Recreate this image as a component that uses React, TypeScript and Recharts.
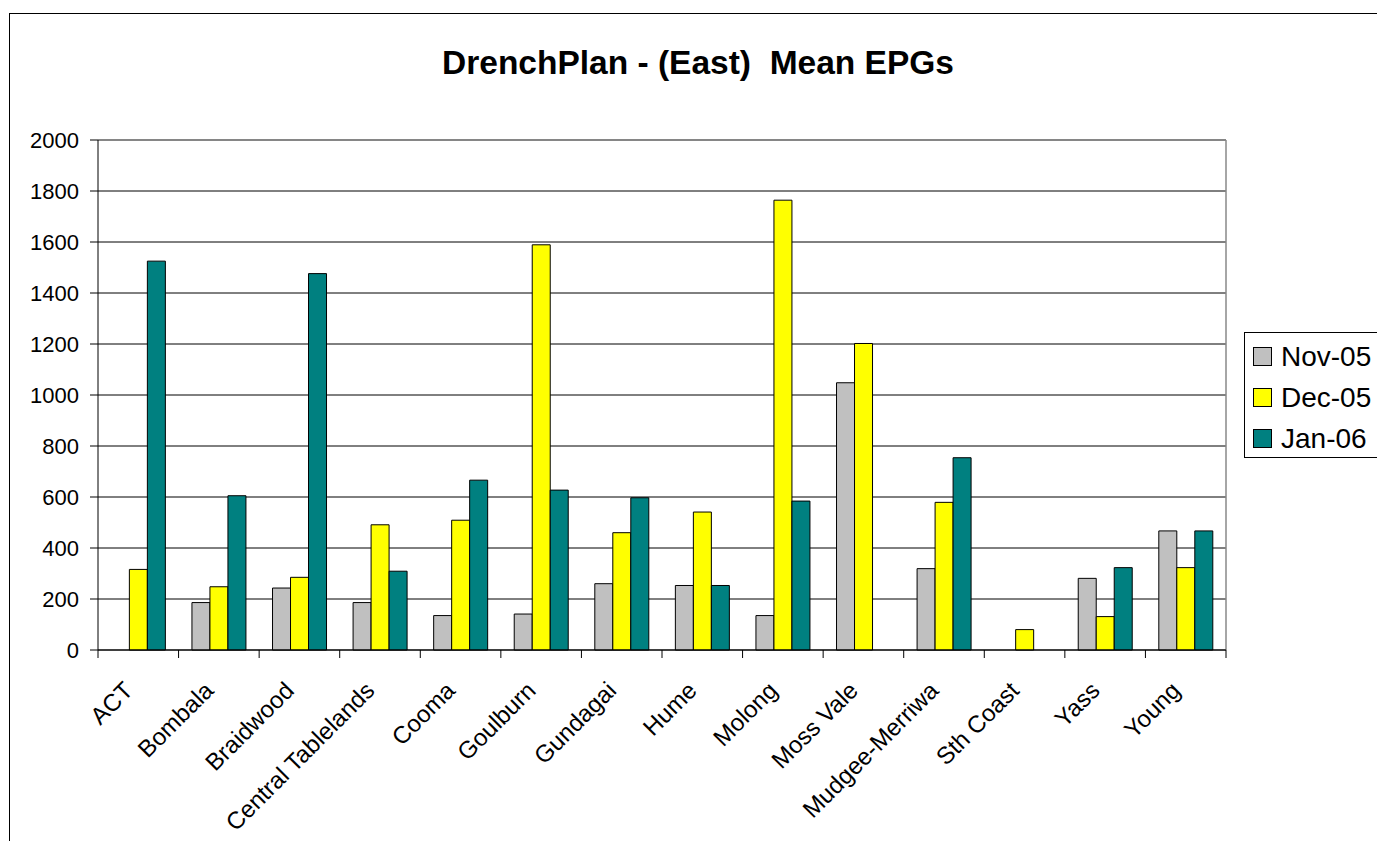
import React from "react";
import { Bar, BarChart, CartesianGrid, Legend, ReferenceLine, XAxis, YAxis } from "recharts";

const categories = [
  "ACT",
  "Bombala",
  "Braidwood",
  "Central Tablelands",
  "Cooma",
  "Goulburn",
  "Gundagai",
  "Hume",
  "Molong",
  "Moss Vale",
  "Mudgee-Merriwa",
  "Sth Coast",
  "Yass",
  "Young",
];

const nov05 = [null, 186, 243, 186, 135, 141, 260, 253, 135, 1048, 319, null, 281, 467];
const dec05 = [316, 248, 285, 491, 509, 1589, 460, 541, 1764, 1202, 579, 80, 131, 323];
const jan06 = [1525, 605, 1476, 309, 666, 627, 597, 253, 584, null, 754, null, 323, 467];

const yTicks = [0, 200, 400, 600, 800, 1000, 1200, 1400, 1600, 1800, 2000];

const series = [
  { key: "nov", name: "Nov-05", color: "#C0C0C0" },
  { key: "dec", name: "Dec-05", color: "#FFFF00" },
  { key: "jan", name: "Jan-06", color: "#008080" },
];

const data = categories.map((name, i) => ({
  name,
  nov: nov05[i],
  dec: dec05[i],
  jan: jan06[i],
}));

const font = '"Liberation Sans", Arial, sans-serif';

// rotated label, plus the small tick marks on the category boundaries
function CategoryTick(props: any) {
  const { x, y, payload, index } = props;
  const half = payload.offset || 0;
  const px = x - 4;
  const py = y + 42;
  return (
    <g>
      <line x1={x - half} x2={x - half} y1={y} y2={y + 8} stroke="#000" />
      {index === categories.length - 1 && (
        <line x1={x + half} x2={x + half} y1={y} y2={y + 8} stroke="#000" />
      )}
      <text
        x={px}
        y={py}
        textAnchor="end"
        transform={`rotate(-45 ${px} ${py})`}
        fontSize={24}
        fontFamily={font}
        fill="#000"
      >
        {payload.value}
      </text>
    </g>
  );
}

function LegendBox(props: any) {
  const items = [...(props.payload || [])].sort(
    (a: any, b: any) =>
      series.findIndex((s) => s.name === a.value) - series.findIndex((s) => s.name === b.value),
  );
  return (
    <div
      style={{
        border: "1px solid #000",
        background: "#fff",
        padding: "3px 0 0 8px",
        width: 400,
        height: 121,
        boxSizing: "content-box",
        fontFamily: font,
        fontSize: 28,
        color: "#000",
      }}
    >
      {items.map((item: any) => (
        <div key={item.value} style={{ display: "flex", alignItems: "center", height: 41 }}>
          <span
            style={{
              display: "inline-block",
              width: 17,
              height: 17,
              background: item.color,
              border: "1px solid #000",
              marginRight: 9,
            }}
          />
          <span>{item.value}</span>
        </div>
      ))}
    </div>
  );
}

export default function App() {
  return (
    <div style={{ position: "fixed", left: 0, top: 0, width: 1377, height: 841, overflow: "hidden", background: "#fff" }}>
      <div
        style={{
          position: "absolute",
          left: 9,
          top: 13,
          width: 1500,
          height: 1000,
          border: "1px solid #000",
        }}
      />
      <div
        style={{
          position: "absolute",
          left: 0,
          top: 46,
          width: 1396,
          textAlign: "center",
          fontFamily: font,
          fontWeight: "bold",
          fontSize: 33.5,
          lineHeight: "33.5px",
          whiteSpace: "pre",
          color: "#000",
        }}
      >
        {"DrenchPlan - (East)  Mean EPGs"}
      </div>
      <div style={{ position: "absolute", left: 0, top: 0 }}>
        <BarChart
          width={1377}
          height={841}
          data={data}
          margin={{ top: 140, right: 151, left: 10, bottom: 10 }}
          barCategoryGap="16.6%"
          barGap={0}
        >
          <CartesianGrid horizontal vertical={false} stroke="#000" strokeWidth={1} />
          <XAxis
            dataKey="name"
            interval={0}
            height={181}
            tickSize={0}
            tickMargin={0}
            tickLine={false}
            axisLine={{ stroke: "#000" }}
            tick={<CategoryTick />}
          />
          <YAxis
            width={88}
            domain={[0, 2000]}
            ticks={yTicks}
            interval={0}
            tickSize={8}
            tickMargin={11}
            tickLine={{ stroke: "#000" }}
            axisLine={{ stroke: "#000" }}
            tick={{ fill: "#000", fontSize: 22, fontFamily: font }}
          />
          <ReferenceLine y={2000} stroke="#888" strokeWidth={1.5} />
          <ReferenceLine x={categories[categories.length - 1]} position="end" stroke="#888" strokeWidth={1.5} />
          <Legend
            layout="vertical"
            align="center"
            verticalAlign="middle"
            wrapperStyle={{ left: 1244, top: 332, width: 420 }}
            content={<LegendBox />}
          />
          {series.map((s) => (
            <Bar
              key={s.key}
              dataKey={s.key}
              name={s.name}
              fill={s.color}
              stroke="#000"
              strokeWidth={1}
              isAnimationActive={false}
            />
          ))}
        </BarChart>
      </div>
    </div>
  );
}
